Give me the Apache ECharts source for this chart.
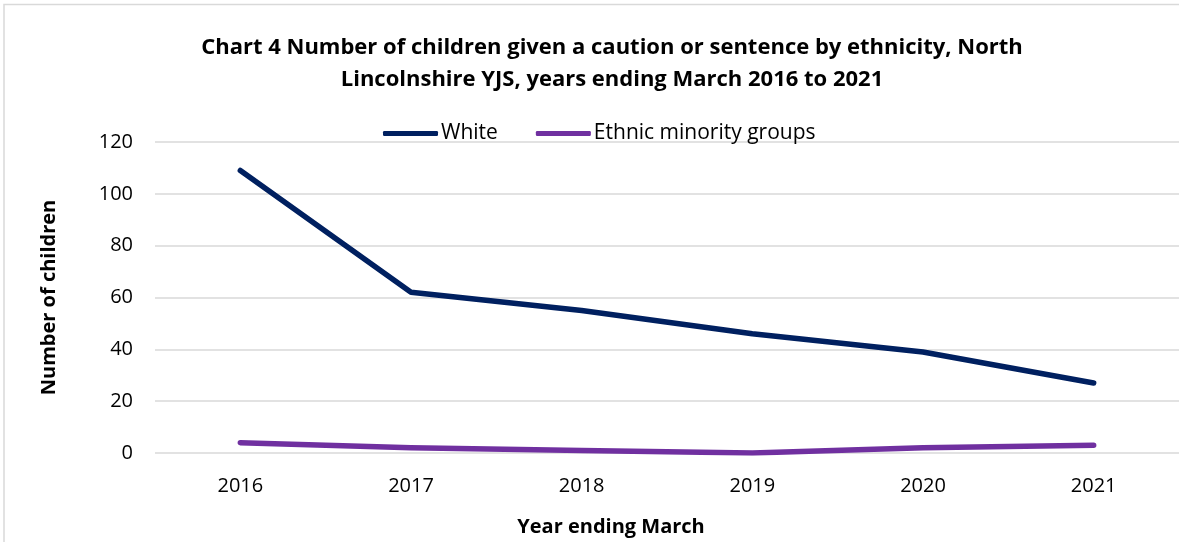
<!DOCTYPE html>
<html><head><meta charset="utf-8">
<script src="https://cdn.jsdelivr.net/npm/echarts@6/dist/echarts.min.js"></script>
<style>html,body{margin:0;padding:0;background:#fff}#c{width:1179px;height:542px;}</style>
</head><body><div id="c"></div>
<script>
const categories = ['2016','2017','2018','2019','2020','2021'];
const whiteValues = [109, 62, 55, 46, 39, 27];
const minorityValues = [4, 2, 1, 0, 2, 3];
const seriesNames = ['White', 'Ethnic minority groups'];
const titleLines = ['Chart 4 Number of children given a caution or sentence by ethnicity, North',
                    'Lincolnshire YJS, years ending March 2016 to 2021'];
const FONT = '"Open Sans", sans-serif';
const chart = echarts.init(document.getElementById('c'));
const titleStyle = {fontFamily: FONT, fontSize: 22, fontWeight: 'bold', fill: '#000', textAlign: 'center', textVerticalAlign: 'middle'};
chart.setOption({
  animation: false,
  textStyle: {fontFamily: FONT},
  graphic: [
    {type: 'rect', shape: {x: 4, y: 4.5, width: 1300, height: 700},
     style: {fill: 'none', stroke: '#d9d9d9', lineWidth: 1.5}, silent: true},
    {type: 'text', x: 612, y: 48, style: Object.assign({text: titleLines[0]}, titleStyle)},
    {type: 'text', x: 612, y: 80, style: Object.assign({text: titleLines[1]}, titleStyle)}
  ],
  legend: {
    top: 118, left: 378, itemWidth: 55, itemHeight: 5, itemGap: 38,
    icon: 'roundRect',
    textStyle: {fontFamily: FONT, fontSize: 21, color: '#000', padding: [0, 0, 0, -2]},
    data: seriesNames
  },
  grid: {left: 155, right: 0, top: 142, bottom: 89},
  xAxis: {
    type: 'category', data: categories, boundaryGap: true,
    axisLine: {show: false}, axisTick: {show: false},
    axisLabel: {fontFamily: FONT, fontSize: 20, color: '#000', margin: 23},
    name: 'Year ending March', nameLocation: 'middle', nameGap: 64,
    nameTextStyle: {fontFamily: FONT, fontSize: 20, fontWeight: 'bold', color: '#000', padding: [0, 112, 0, 0]}
  },
  yAxis: {
    type: 'value', min: 0, max: 120, interval: 20,
    axisLine: {show: false}, axisTick: {show: false},
    splitLine: {lineStyle: {color: '#d9d9d9', width: 1.5}},
    axisLabel: {fontFamily: FONT, fontSize: 20, color: '#000', margin: 22},
    name: 'Number of children', nameLocation: 'middle', nameGap: 96,
    nameTextStyle: {fontFamily: FONT, fontSize: 20, fontWeight: 'bold', color: '#000'}
  },
  series: [
    {name: seriesNames[0], type: 'line', data: whiteValues, symbol: 'none',
     lineStyle: {color: '#002060', width: 5.5, cap: 'round', join: 'round'}, itemStyle: {color: '#002060'}},
    {name: seriesNames[1], type: 'line', data: minorityValues, symbol: 'none',
     lineStyle: {color: '#7030A0', width: 5.5, cap: 'round', join: 'round'}, itemStyle: {color: '#7030A0'}}
  ]
});
</script></body></html>
